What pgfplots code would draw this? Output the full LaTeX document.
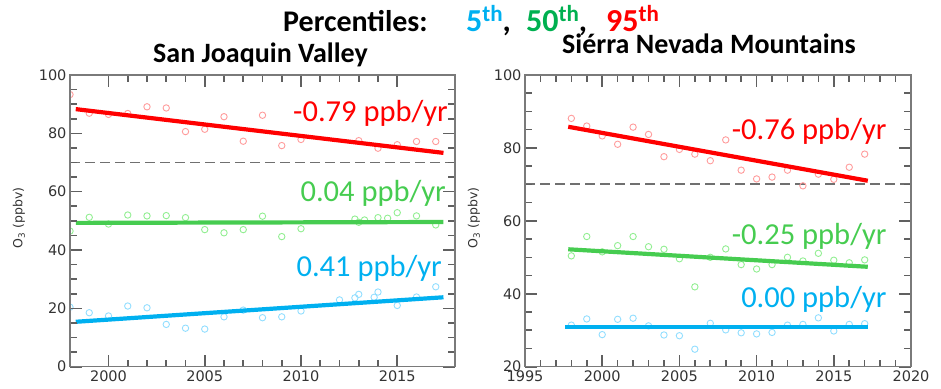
\documentclass[border=0pt]{standalone}
\usepackage{fontspec}
\setmainfont{Carlito}
\newfontfamily\dejavu{DejaVu Sans}
\usepackage{pgfplots}
\pgfplotsset{compat=1.18}
\definecolor{tred}{HTML}{FF0000}
\definecolor{tgreen}{HTML}{46CC50}
\definecolor{tblue}{HTML}{00B0F0}
\definecolor{mred}{HTML}{FF9C9C}
\definecolor{mgreen}{HTML}{92EE92}
\definecolor{mblue}{HTML}{92DEFF}
\definecolor{ttgreen}{HTML}{00B050}
\definecolor{framegray}{HTML}{7A7A7A}
\definecolor{tickgray}{HTML}{606060}
\definecolor{dashgray}{HTML}{707070}
\definecolor{labgray}{HTML}{333333}
\pgfplotsset{
  myaxis/.style={
    scale only axis,
    height=291.7pt,
    anchor=south west,
    axis on top,
    axis line style={framegray, line width=1.4pt},
    xtick pos=both, ytick pos=both,
    xticklabel pos=bottom, yticklabel pos=left,
    tick align=inside,
    major tick length=12pt,
    minor tick length=7pt,
    xtick style={draw=tickgray, line width=1.6pt},
    ytick style={draw=tickgray, line width=1.6pt},
    minor tick style={draw=tickgray, line width=1.6pt},
    tick label style={font=\dejavu\fontsize{14.5}{14.5}\selectfont, text=labgray},
    /pgf/number format/assume math mode=true,
    xticklabel style={/pgf/number format/1000 sep={}, yshift=-1pt},
    clip marker paths=true,
    minor y tick num=3,
    minor x tick num=4,
  },
  pts/.style={only marks, mark=o, mark size=3.2pt, mark options={line width=0.9pt, #1}, color=#1},
  trend/.style={#1, line width=4.2pt},
  dashl/.style={dashgray, line width=1.8pt, dash pattern=on 10pt off 5pt},
}
\newcommand{\supth}{\raisebox{10pt}{\fontsize{23}{23}\selectfont th}}
\begin{document}
\begin{tikzpicture}
\useasboundingbox (0pt,0pt) rectangle (941pt,388pt);
% ---------------- left panel
\begin{axis}[myaxis, at={(70pt,21.3pt)}, width=385pt,
  xmin=1998, xmax=2018, ymin=0, ymax=100,
  xtick={2000,2005,2010,2015}, ytick={0,20,40,60,80,100}]
\addplot[dashl] coordinates {(1998,70) (2018,70)};
\addplot[pts=mred] coordinates {
(1998,93.3) (1999,86.9) (2000,86.5) (2001,86.8) (2002,89.1) (2003,88.7)
(2004,80.6) (2005,81.4) (2006,85.7) (2007,77.3) (2008,86.2) (2009,75.8)
(2010,77.9) (2013,77.5) (2014,74.9) (2015,76.1) (2016,77.2) (2017,77.2)};
\addplot[pts=mgreen] coordinates {
(1998,46.5) (1999,51.2) (2000,48.9) (2001,52.0) (2002,51.7) (2003,51.8)
(2004,51.1) (2005,47.0) (2006,45.9) (2007,47.0) (2008,51.6) (2009,44.6)
(2010,47.3) (2012.8,50.6) (2013,49.5) (2013.3,50.3) (2014,51.1) (2014.5,50.9)
(2015,52.8) (2016,51.7) (2017,48.6)};
\addplot[pts=mblue] coordinates {
(1998,20.4) (1999,18.5) (2000,17.4) (2001,20.8) (2002,20.2) (2003,14.5)
(2004,13.2) (2005,12.9) (2006,17.1) (2007,19.4) (2008,16.8) (2009,17.1)
(2010,19.1) (2012,22.9) (2012.8,23.6) (2013,24.8) (2014,25.6) (2013.8,23.8)
(2015,21.0) (2016,23.9) (2017,27.4)};
\addplot[trend=tred] coordinates {(1998.3,88.3) (2017.4,73.3)};
\addplot[trend=tgreen] coordinates {(1998.3,49.3) (2017.4,49.6)};
\addplot[trend=tblue] coordinates {(1998.3,15.4) (2017.4,23.8)};
\end{axis}
% ---------------- right panel
\begin{axis}[myaxis, at={(525pt,21.3pt)}, width=386pt,
  xmin=1995, xmax=2020, ymin=20, ymax=100,
  xtick={1995,2000,2005,2010,2015,2020}, ytick={20,40,60,80,100}]
\addplot[dashl] coordinates {(1995,70) (2020,70)};
\addplot[pts=mred] coordinates {
(1998,88.1) (1999,86.0) (2000,83.3) (2001,81.0) (2002,85.7) (2003,83.7)
(2004,77.6) (2005,79.6) (2006,78.3) (2007,76.5) (2008,82.2) (2009,73.9)
(2010,71.5) (2011,72.0) (2012,73.9) (2013,69.6) (2014,72.8) (2015,71.4)
(2016,74.7) (2017,78.3)};
\addplot[pts=mgreen] coordinates {
(1998,50.4) (1999,55.7) (2000,51.5) (2001,53.2) (2002,55.7) (2003,52.9)
(2004,52.2) (2005,49.6) (2006,41.9) (2007,50.0) (2008,52.3) (2009,48.0)
(2010,46.8) (2011,48.0) (2012,50.0) (2013,49.0) (2014,51.1) (2015,49.2)
(2016,48.5) (2017,49.3)};
\addplot[pts=mblue] coordinates {
(1998,31.4) (1999,33.1) (2000,28.8) (2001,33.0) (2002,33.3) (2003,31.2)
(2004,28.7) (2005,28.5) (2006,24.8) (2007,31.9) (2008,30.1) (2009,29.3)
(2010,29.0) (2011,29.4) (2012,31.4) (2013,31.6) (2014,33.4) (2015,29.8)
(2016,31.6) (2017,31.8)};
\addplot[trend=tred] coordinates {(1997.8,85.8) (2017.2,71.0)};
\addplot[trend=tgreen] coordinates {(1997.8,52.2) (2017.2,47.4)};
\addplot[trend=tblue] coordinates {(1997.6,30.8) (2017.2,30.8)};
\end{axis}
% ---------------- texts
\begin{scope}[every node/.style={anchor=base west, inner sep=0, font=\fontsize{32}{32}\selectfont\bfseries}]
\node at (283pt,356.3pt) {\fontsize{30}{30}\selectfont Percentiles:};
\node[text=tblue] at (466pt,356.3pt) {5\supth\textcolor{black}{,}};
\node[text=ttgreen] at (526pt,356.3pt) {50\supth\textcolor{black}{,}};
\node[text=tred] at (606pt,356.3pt) {95\supth};
\end{scope}
\node[anchor=base west, inner sep=0, font=\fontsize{28}{28}\selectfont\bfseries] at (153pt,325.7pt) {San Joaquin Valley};
\node[anchor=base west, inner sep=0, font=\fontsize{28}{28}\selectfont\bfseries] at (562pt,334.7pt) {Siérra Nevada Mountains};
\node[rotate=90, inner sep=0, text=labgray, font=\dejavu\fontsize{12.5}{12.5}\selectfont] at (19pt,170pt) {O\textsubscript{3} (ppbv)};
\node[rotate=90, inner sep=0, text=labgray, font=\dejavu\fontsize{12.5}{12.5}\selectfont] at (474pt,170pt) {O\textsubscript{3} (ppbv)};
\begin{scope}[every node/.style={anchor=base east, inner sep=0, font=\fontsize{30.5}{30.5}\selectfont}]
\node[text=tred] at (448pt,266.3pt) {-0.79 ppb/yr};
\node[text=tgreen] at (446pt,186.3pt) {0.04 ppb/yr};
\node[text=tblue] at (442pt,111.3pt) {0.41 ppb/yr};
\node[text=tred] at (886.7pt,248pt) {-0.76 ppb/yr};
\node[text=tgreen] at (886.7pt,143pt) {-0.25 ppb/yr};
\node[text=tblue] at (886.7pt,80.7pt) {0.00 ppb/yr};
\end{scope}
\end{tikzpicture}
\end{document}
